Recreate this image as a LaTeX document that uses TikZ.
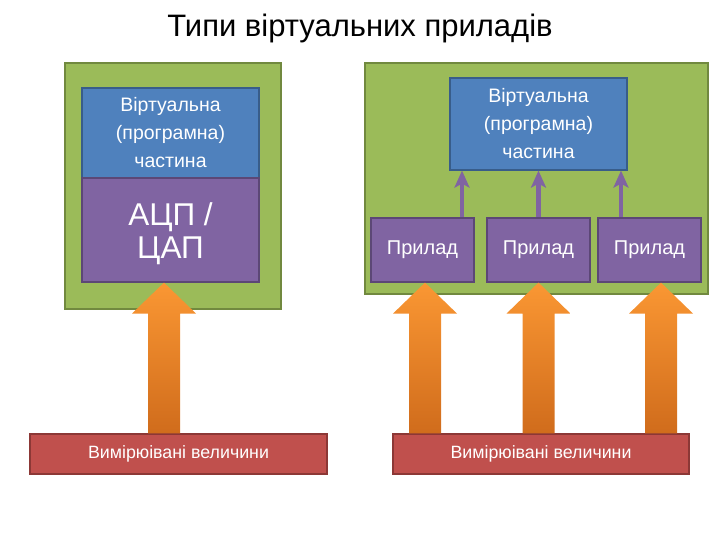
\documentclass[tikz,border=0pt]{standalone}
\usepackage{fontspec}
\setmainfont{Liberation Sans}
\usetikzlibrary{arrows.meta,calc}

\definecolor{boxgreen}{HTML}{9BBB59}
\definecolor{boxgreenline}{HTML}{71893F}
\definecolor{boxblue}{HTML}{4F81BD}
\definecolor{boxblueline}{HTML}{385D8A}
\definecolor{boxpurple}{HTML}{8064A2}
\definecolor{boxpurpleline}{HTML}{5C4776}
\definecolor{boxred}{HTML}{C0504D}
\definecolor{boxredline}{HTML}{8C3836}
\definecolor{orangetop}{HTML}{FA9733}
\definecolor{orangebot}{HTML}{D06C1C}

\tikzset{
    frame/.style={draw=boxgreenline, fill=boxgreen, line width=1.2pt, inner sep=0pt},
    soft/.style={draw=boxblueline, fill=boxblue, line width=1.2pt, text=white, align=center,
        font=\fontsize{19.5}{28}\selectfont, inner sep=0pt},
    device/.style={draw=boxpurpleline, fill=boxpurple, line width=1.2pt, text=white, align=center,
        font=\fontsize{20}{22}\selectfont, inner sep=0pt},
    signals/.style={draw=boxredline, fill=boxred, line width=1.2pt, text=white,
        font=\fontsize{17.8}{20}\selectfont, inner sep=0pt},
    link/.style={draw=boxpurple, line width=4.5pt, -{Stealth[width=15pt,length=17pt,inset=4pt]}}
}

% fat orange arrow: #1 = tip, #2 = foot
\newcommand{\fatarrow}[2]{
    \shade[top color=orangetop, bottom color=orangebot]
        (#1) -- ($(#1)+(32,-31)$) -- ($(#1)+(16,-31)$) -- ($(#1|-#2)+(16,0)$)
        -- ($(#1|-#2)+(-16,0)$) -- ($(#1)+(-16,-31)$) -- ($(#1)+(-32,-31)$) -- cycle;
}

\begin{document}
\begin{tikzpicture}[x=1pt,y=1pt]
        \useasboundingbox (0,0) rectangle (720,540);

        \node (title) at (360,512) {\fontsize{31}{34}\selectfont Типи віртуальних приладів};

        %left side: one device with a converter
        \node[frame, minimum width=216, minimum height=246] (boxL) at (173,354) {};
        \node[soft, minimum width=177, minimum height=90] (softL) at (170.5,407) {Віртуальна\\(програмна)\\частина};
        \node[device, minimum width=177, minimum height=104,
            label={[text=white, align=center, font=\fontsize{31.5}{33}\selectfont, yshift=-4]center:АЦП /\\ЦАП}] (adc) at (170.5,310) {};
        \node[signals, minimum width=297, minimum height=40] (measL) at (178.5,86) {Вимірюівані величини};

        %right side: several devices
        \node[frame, minimum width=343, minimum height=231] (boxR) at (536.5,361.5) {};
        \node[soft, minimum width=177, minimum height=92] (softR) at (538.5,416) {Віртуальна\\(програмна)\\частина};
        \node[device, minimum width=103, minimum height=64] (dev1) at (422.5,290) {Прилад};
        \node[device, minimum width=103, minimum height=64] (dev2) at (538.5,290) {Прилад};
        \node[device, minimum width=103, minimum height=64] (dev3) at (649.5,290) {Прилад};
        \node[signals, minimum width=296, minimum height=40] (measR) at (541,86) {Вимірюівані величини};

        \coordinate (up1) at ($(dev1.north)+(39.5,0)$);
        \coordinate (up3) at ($(dev3.north)+(-28.5,0)$);
        \draw[link] (up1) -- (up1 |- softR.south);
        \draw[link] (dev2.north) -- (dev2.north |- softR.south);
        \draw[link] (up3) -- (up3 |- softR.south);

        %input arrows
        \coordinate (inL) at ($(adc.south)+(-6.5,0)$);
        \coordinate (in1) at ($(dev1.south)+(2.5,0)$);
        \coordinate (in2) at (dev2.south);
        \coordinate (in3) at ($(dev3.south)+(11.5,0)$);
        \fatarrow{inL}{measL.north}
        \fatarrow{in1}{measR.north}
        \fatarrow{in2}{measR.north}
        \fatarrow{in3}{measR.north}

\end{tikzpicture}
\end{document}
